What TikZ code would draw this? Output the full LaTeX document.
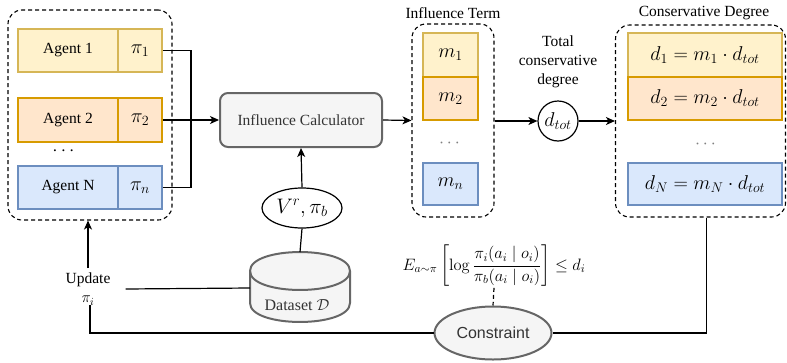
\RequirePackage{fix-cm}
\documentclass[tikz,border=0pt]{standalone}
\usepackage[no-math]{fontspec}
\setmainfont{Liberation Serif}
\newfontfamily\arialf{Liberation Sans}
\usepackage{amsmath}
\usetikzlibrary{shapes.geometric,arrows.meta}
\definecolor{yF}{HTML}{FFF2CC}
\definecolor{yD}{HTML}{D6B656}
\definecolor{oF}{HTML}{FFE6CC}
\definecolor{oD}{HTML}{D79B00}
\definecolor{bF}{HTML}{DAE8FC}
\definecolor{bD}{HTML}{6C8EBF}
\definecolor{gF}{HTML}{F5F5F5}
\definecolor{gD}{HTML}{666666}
\definecolor{tx}{HTML}{333333}
\begin{document}
\begin{tikzpicture}[x=1pt,y=-1pt,
  txt/.style={font=\fontsize{15.5}{19}\selectfont, inner sep=0pt},
  mathf/.style={font=\fontsize{20}{22}\selectfont},
  cell/.style={draw, line width=1.7pt, inner sep=0pt, txt},
  yb/.style={cell, fill=yF, draw=yD},
  ob/.style={cell, fill=oF, draw=oD},
  bb/.style={cell, fill=bF, draw=bD},
  grp/.style={draw, dash pattern=on 4pt off 3pt, line width=1.1pt, rounded corners=14pt, inner sep=0pt},
  conn/.style={line width=1.2pt},
  arr/.style={conn, -{Stealth[length=9pt,width=8pt,inset=2.5pt]}},
  gshape/.style={draw=gD, fill=gF, line width=2pt},
]
\useasboundingbox (0,0) rectangle (787,362);

% left group
\node[grp, minimum width=164pt, minimum height=210pt] (gA) at (90,115) {};
\node[yb, minimum width=100pt, minimum height=43pt] (a1) at (68,50.5) {Agent 1};
\node[yb, minimum width=44pt, minimum height=43pt, mathf] (p1) at (140,50.5) {$\pi_1$};
\node[ob, minimum width=100pt, minimum height=44pt] (a2) at (68,120) {Agent 2};
\node[ob, minimum width=44pt, minimum height=44pt, mathf] (p2) at (140,120) {$\pi_2$};
\node[bb, minimum width=100pt, minimum height=43pt] (an) at (68,187.5) {Agent N};
\node[bb, minimum width=44pt, minimum height=43pt, mathf] (pn) at (140,187.5) {$\pi_n$};
\node[txt, font=\fontsize{19}{20}\selectfont] (dotA) at (65,151) {$\cdots$};

% calculator
\node[gshape, rounded corners=8pt, minimum width=162pt, minimum height=54pt, txt, text=tx] (calc) at (301,120) {Influence Calculator};
\coordinate (jn) at (191,120);
\draw[conn] (p1.east) -| (jn);
\draw[conn] (pn.east) -| (jn);
\draw[arr] (p2.east) -- (calc.west);

% V ellipse
\node[ellipse, draw, line width=1.2pt, minimum width=80pt, minimum height=40pt, inner sep=0pt, font=\fontsize{21}{22}\selectfont] (vr) at (302,208) {$V^r,\pi_b$};
\draw[arr] (vr.north) -- (calc.south);

% dataset cylinder
\path[gshape] (250,271) -- (250,303) .. controls (250,328.3) and (350,328.3) .. (350,303) -- (350,271) .. controls (350,245.7) and (250,245.7) .. (250,271) -- cycle;
\draw[draw=gD, line width=2pt] (250,271) .. controls (250,296.3) and (350,296.3) .. (350,271);
\coordinate (dsTop) at (300,252);
\coordinate (dsLeft) at (250,288);
\node[txt, text=tx, font=\fontsize{16}{19}\selectfont] (ds) at (297,305) {Dataset $\mathcal{D}$};
\draw[conn] (dsTop) -- (vr.south);

% influence group
\node[txt] (tI) at (453,13) {Influence Term};
\node[grp, minimum width=82pt, minimum height=193pt] (gI) at (453,120.5) {};
\node[yb, minimum width=55pt, minimum height=44pt, mathf] (m1) at (450.5,55) {$m_1$};
\node[ob, minimum width=55pt, minimum height=43pt, mathf] (m2) at (450.5,98.5) {$m_2$};
\node[txt, font=\fontsize{18}{20}\selectfont, text=gray] (dotI) at (451,143) {$\cdots$};
\node[bb, minimum width=55pt, minimum height=42pt, mathf] (mn) at (450.5,184) {$m_n$};
\draw[arr] (calc.east) -- (gI.west);

% total degree
\node[txt, align=center] (tT) at (558,62) {Total\\conservative\\degree};
\node[circle, draw, line width=1.2pt, minimum size=40pt, inner sep=0pt, mathf] (dt) at (558,121) {$d_{tot}$};
\draw[arr] (gI.east |- dt.west) -- (dt.west);

% conservative group
\node[txt] (tC) at (704,13) {Conservative Degree};
\node[grp, minimum width=170pt, minimum height=192pt] (gC) at (700.5,121) {};
\node[yb, minimum width=154pt, minimum height=44pt, mathf] (d1) at (705,55) {$d_1 = m_1\cdot d_{tot}$};
\node[ob, minimum width=154pt, minimum height=43pt, mathf] (d2) at (705,98.5) {$d_2 = m_2\cdot d_{tot}$};
\node[txt, font=\fontsize{18}{20}\selectfont, text=gray] (dotC) at (707,144) {$\cdots$};
\node[bb, minimum width=154pt, minimum height=42pt, mathf] (dN) at (705,184) {$d_N = m_N\cdot d_{tot}$};
\draw[arr] (dt.east) -- (gC.west |- dt.east);

% constraint
\node[ellipse, gshape, minimum width=117pt, minimum height=53pt, inner sep=0pt, text=tx, font=\arialf\fontsize{16}{19}\selectfont] (cons) at (493,333) {Constraint};
\node[inner sep=1pt, font=\fontsize{16.5}{20}\selectfont] (kl) at (494,266) {$E_{a\sim\pi}\left[\log\dfrac{\pi_i(a_i\mid o_i)}{\pi_b(a_i\mid o_i)}\right]\leq d_i$};
\draw[conn, dash pattern=on 4pt off 3pt] (kl.south) -- (cons.north);

% update
\node[txt, align=center] (upd) at (88,289) {Update\\$\pi_i$};
\draw[arr] (upd.north |- 0,268) -- (upd.north |- gA.south);
\draw[conn] ([xshift=15pt]upd.east) -- (dsLeft);
\draw[conn] ([xshift=6pt]gC.south) |- (cons.east);
\draw[conn] (cons.west) -| ([xshift=2pt]upd.south);
\end{tikzpicture}
\end{document}
